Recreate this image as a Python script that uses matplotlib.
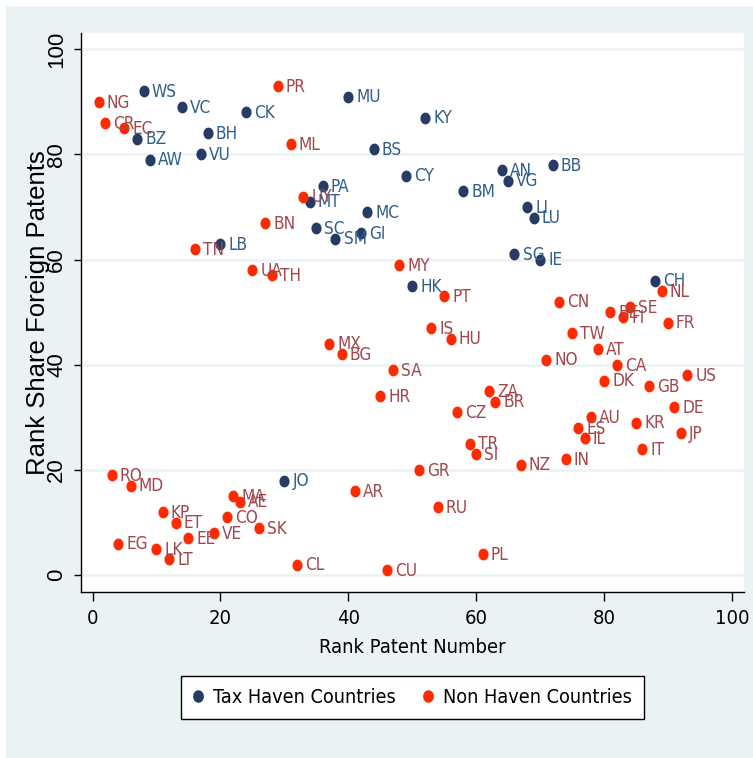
import matplotlib
matplotlib.use("Agg")
import matplotlib.pyplot as plt
from matplotlib import font_manager
from matplotlib.font_manager import FontProperties
from matplotlib.path import Path
from matplotlib.patches import Rectangle
from matplotlib.lines import Line2D
import numpy as np

# ---------------- data ----------------
haven_codes = ["WS", "VC", "CK", "BH", "BZ", "AW", "VU", "MU", "KY", "BS", "CY", "PA", "MT",
               "MC", "SC", "SM", "GI", "BM", "AN", "VG", "BB", "LI", "LU", "SG", "IE", "LB",
               "HK", "CH", "JO"]
haven_x = [8, 14, 24, 18, 7, 9, 17, 40, 52, 44, 49, 36, 34,
           43, 35, 38, 42, 58, 64, 65, 72, 68, 69, 66, 70, 20,
           50, 88, 30]
haven_y = [92, 89, 88, 84, 83, 79, 80, 91, 87, 81, 76, 74, 71,
           69, 66, 64, 65, 73, 77, 75, 78, 70, 68, 61, 60, 63,
           55, 56, 18]

non_codes = ["NG", "CR", "EC", "PR", "ML", "UY", "BN", "TN", "UA", "TH", "MY", "PT", "IS",
             "HU", "MX", "BG", "SA", "HR", "CZ", "ZA", "BR", "TR", "SI", "NZ", "GR", "AR",
             "RU", "PL", "CU", "CL", "CN", "TW", "NO", "AT", "CA", "DK", "IN", "AU", "ES",
             "IL", "BE", "SE", "FI", "NL", "FR", "US", "GB", "DE", "KR", "JP", "IT", "RO",
             "MD", "MA", "AE", "KP", "ET", "CO", "SK", "VE", "EE", "EG", "LK", "LT"]
non_x = [1, 2, 5, 29, 31, 33, 27, 16, 25, 28, 48, 55, 53,
         56, 37, 39, 47, 45, 57, 62, 63, 59, 60, 67, 51, 41,
         54, 61, 46, 32, 73, 75, 71, 79, 82, 80, 74, 78, 76,
         77, 81, 84, 83, 89, 90, 93, 87, 91, 85, 92, 86, 3,
         6, 22, 23, 11, 13, 21, 26, 19, 15, 4, 10, 12]
non_y = [90, 86, 85, 93, 82, 72, 67, 62, 58, 57, 59, 53, 47,
         45, 44, 42, 39, 34, 31, 35, 33, 25, 23, 21, 20, 16,
         13, 4, 1, 2, 52, 46, 41, 43, 40, 37, 22, 30, 28,
         26, 50, 51, 49, 54, 48, 38, 36, 32, 29, 27, 24, 19,
         17, 15, 14, 12, 10, 11, 9, 8, 7, 6, 5, 3]

series_names = ["Tax Haven Countries", "Non Haven Countries"]
x_ticks = [0, 20, 40, 60, 80, 100]
y_ticks = [0, 20, 40, 60, 80, 100]
x_title = "Rank Patent Number"
y_title = "Rank Share Foreign Patents"

# ---------------- fonts ----------------
def find_narrow():
    prefs = ["LiberationSansNarrow-Regular", "ArialNarrow", "Arial Narrow",
             "DejaVuSansCondensed.ttf", "RobotoCondensed-Regular", "OpenSansCondensed",
             "OpenSans_Condensed-Regular", "NotoSans-Condensed.ttf", "NotoSansCondensed-Regular"]
    files = [f.fname for f in font_manager.fontManager.ttflist]
    for p in prefs:
        for fn in files:
            if p.lower() in fn.lower():
                return fn
    return None

nf = find_narrow()
if nf is not None:
    def NP(size):
        return FontProperties(fname=nf, size=size)
else:
    def NP(size):
        return FontProperties(family="Liberation Sans", size=size * 0.95)
WP = lambda size: FontProperties(family="Liberation Sans", size=size)

BG = "#EAF2F3"
NAVY = "#263B66"
NAVY_TXT = "#2F5F8A"
RED = "#FF2A00"
RED_TXT = "#A2474C"

# slightly narrow ellipse marker (reference is squeezed horizontally)
t = np.linspace(0, 2 * np.pi, 60)
ell = Path(np.column_stack([0.86 * np.cos(t), np.sin(t)]), closed=True)

W, H = 753, 758
fig = plt.figure(figsize=(W / 100, H / 100), dpi=100, facecolor="white")
fig.patches.append(Rectangle((6 / W, 0), 1 - 6 / W, 1 - 6 / H, transform=fig.transFigure,
                             facecolor=BG, edgecolor="none", zorder=-10))

L, R, T, B = 81, 744, 33, 592
ax = fig.add_axes([L / W, 1 - B / H, (R - L) / W, (B - T) / H])
ax.set_facecolor("white")
ax.set_xlim(-1.8, 101.9)
ax.set_ylim(-3.2, 103.1)

for yv in y_ticks:
    ax.axhline(yv, color=BG, lw=1.8, zorder=0)

for s in ["top", "right"]:
    ax.spines[s].set_visible(False)
for s in ["left", "bottom"]:
    ax.spines[s].set_color("black")
    ax.spines[s].set_linewidth(1.0)

ax.set_xticks(x_ticks)
ax.set_yticks(y_ticks)
ax.set_xticklabels([str(v) for v in x_ticks], fontproperties=NP(14.5))
ax.set_yticklabels([str(v) for v in y_ticks], fontproperties=WP(16),
                   rotation=90, va="center")
ax.tick_params(axis="x", length=6.5, width=1, pad=6, colors="black")
ax.tick_params(axis="y", length=5, width=1, pad=5, colors="black")

ax.set_xlabel(x_title, fontproperties=NP(14.5), labelpad=7)
ax.set_ylabel(y_title, fontproperties=WP(18.5), labelpad=-3)

ms = 72
ax.scatter(haven_x, haven_y, s=ms, marker=ell, color=NAVY, linewidths=0, zorder=3)
ax.scatter(non_x, non_y, s=ms, marker=ell, color=RED, linewidths=0, zorder=3)

for c, xv, yv in zip(haven_codes, haven_x, haven_y):
    ax.annotate(c, (xv, yv), xytext=(5.8, -0.5), textcoords="offset points",
                ha="left", va="center", fontproperties=NP(12.3),
                color=NAVY_TXT, zorder=4)
for c, xv, yv in zip(non_codes, non_x, non_y):
    ax.annotate(c, (xv, yv), xytext=(5.8, -0.5), textcoords="offset points",
                ha="left", va="center", fontproperties=NP(12.3),
                color=RED_TXT, zorder=4)

handles = [Line2D([], [], ls="none", marker=ell, markersize=9, color=NAVY, markeredgewidth=0),
           Line2D([], [], ls="none", marker=ell, markersize=9, color=RED, markeredgewidth=0)]
leg = fig.legend(handles, series_names, loc="center",
                 bbox_to_anchor=(412.5 / W, 1 - 697.5 / H), ncol=2,
                 prop=NP(14.2), frameon=True, fancybox=False,
                 edgecolor="black", facecolor="white", framealpha=1,
                 handlelength=0.5, handletextpad=0.55, columnspacing=1.35,
                 borderpad=0.6, borderaxespad=0)
leg.get_frame().set_linewidth(1.0)

fig.savefig("out.png", dpi=100, facecolor="white")
